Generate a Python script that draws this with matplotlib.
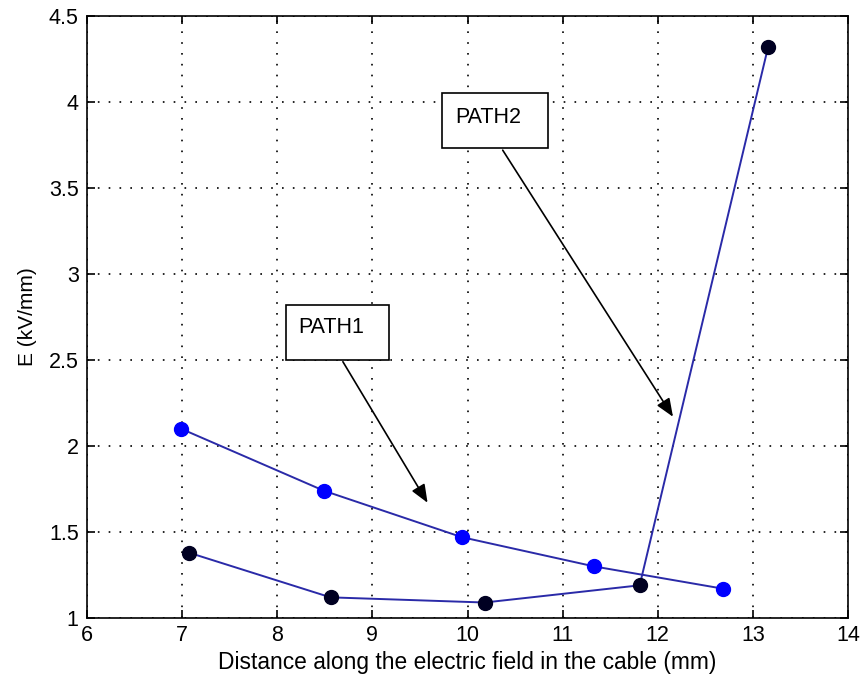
import matplotlib.pyplot as plt
from matplotlib.patches import Rectangle

# data
x_path1 = [6.99, 8.49, 9.94, 11.33, 12.69]
e_path1 = [2.10, 1.74, 1.47, 1.30, 1.17]

x_path2 = [7.07, 8.56, 10.18, 11.81, 13.16]
e_path2 = [1.38, 1.12, 1.09, 1.19, 4.32]

xticks = [6, 7, 8, 9, 10, 11, 12, 13, 14]
yticks = [1, 1.5, 2, 2.5, 3, 3.5, 4, 4.5]
ytick_labels = ["1", "1.5", "2", "2.5", "3", "3.5", "4", "4.5"]

plt.rcParams['font.family'] = ['Liberation Sans', 'DejaVu Sans']

fig = plt.figure(figsize=(8.64, 6.84), dpi=100)
ax = fig.add_axes([0.1007, 0.0965, 0.8808, 0.8801])

line_col = "#2a2aa8"
ax.plot(x_path1, e_path1, color=line_col, lw=1.4, marker="o", ms=10,
        mfc="#0000ff", mec="#0000ff", zorder=3)
ax.plot(x_path2, e_path2, color=line_col, lw=1.4, marker="o", ms=10,
        mfc="#000022", mec="#000022", zorder=3)

ax.set_xlim(6, 14)
ax.set_ylim(1, 4.5)
ax.set_xticks(xticks)
ax.set_yticks(yticks)
ax.set_yticklabels(ytick_labels)
ax.tick_params(direction="in", top=True, right=True, length=6, width=1.2,
               labelsize=15.5, colors="black")
ax.tick_params(axis="x", pad=5)
ax.tick_params(axis="y", pad=6)
ax.grid(True, color="black", linestyle=(0, (1, 5.5)), linewidth=1.2)
for s in ax.spines.values():
    s.set_linewidth(1.2)

ax.set_xlabel("Distance along the electric field in the cable (mm)", fontsize=16.4)
ax.xaxis.set_label_coords(0.5, -0.055)
ax.set_ylabel("E (kV/mm)", fontsize=15)
ax.yaxis.set_label_coords(-0.066, 0.5)

# annotation boxes (textarrow style)
def text_arrow(label, box, text_pos, start, end):
    x0, y0, x1, y1 = box
    ax.add_patch(Rectangle((x0, y0), x1 - x0, y1 - y0, fill=True, fc="white",
                           ec="black", lw=1.2, zorder=4))
    ax.text(text_pos[0], text_pos[1], label, fontsize=15.5, va="baseline", ha="left", zorder=5)
    ax.annotate("", xy=end, xytext=start,
                arrowprops=dict(arrowstyle="-|>,head_length=1.1,head_width=0.45",
                                color="black", lw=1.2, shrinkA=0, shrinkB=0), zorder=5)

text_arrow("PATH1", (8.09, 2.50, 9.17, 2.82), (8.22, 2.657), (8.69, 2.49), (9.58, 1.67))
text_arrow("PATH2", (9.73, 3.73, 10.85, 4.05), (9.87, 3.878), (10.37, 3.72), (12.16, 2.17))

fig.savefig("out.png", dpi=100)
